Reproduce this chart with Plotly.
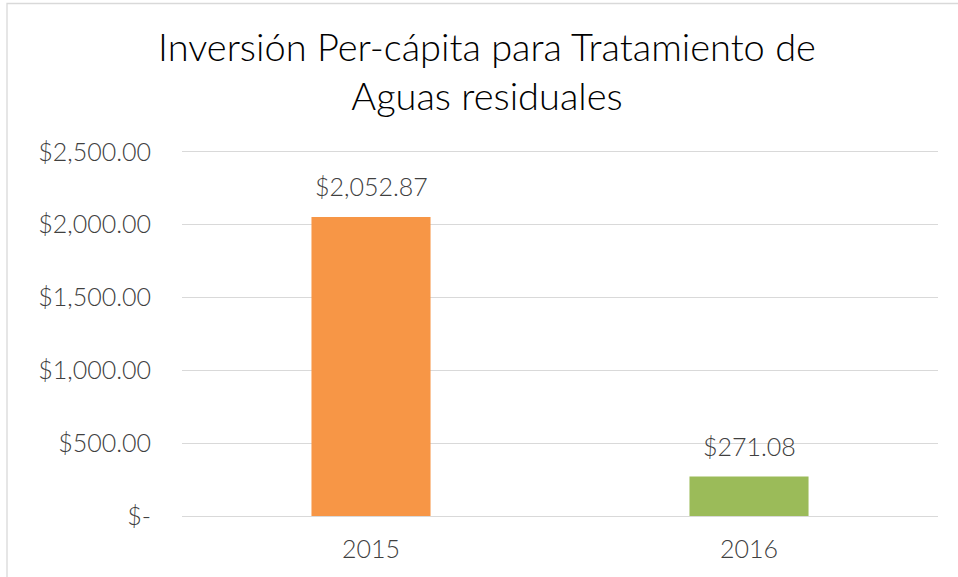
import plotly.graph_objects as go

years = ["2015", "2016"]
values = [2052.87, 271.08]
bar_colors = ["#F79646", "#9BBB59"]
label_text = ["$2,052.87", "$271.08"]
tick_vals = [0, 500, 1000, 1500, 2000, 2500]
tick_text = ["$-", "$500.00", "$1,000.00", "$1,500.00", "$2,000.00", "$2,500.00"]
y_max = 2520

W, H = 958, 577
L, R, T, B = 182, 20, 149, 61
pw, ph = W - L - R, H - T - B

FONT = "Lato"
TXT = "#404040"
fig = go.Figure(go.Bar(
    x=years, y=values, marker=dict(color=bar_colors, line=dict(width=0)),
    hoverinfo="skip",
))

# category axis: annotate by category index so numeric-looking labels are not misread
for i, (yv, t) in enumerate(zip(values, label_text)):
    fig.add_annotation(x=i, y=yv, text=t, showarrow=False, yanchor="bottom",
                       yshift=14, font=dict(family=FONT, size=25, color=TXT, weight=300))

fig.update_layout(
    width=W, height=H,
    margin=dict(l=L, r=R, t=T, b=B),
    paper_bgcolor="white", plot_bgcolor="white",
    bargap=0.685,
    showlegend=False,
    title=dict(text="Inversión Per-cápita para Tratamiento de<br>Aguas residuales",
               x=487 / W, xanchor="center", y=1 - 61 / H, yanchor="middle",
               font=dict(family=FONT, size=38, color="#000000", weight=300)),
    xaxis=dict(type="category", showgrid=False, showline=False, ticks="",
               ticklabelstandoff=16,
               tickfont=dict(family=FONT, size=25, color=TXT, weight=300)),
    yaxis=dict(range=[0, y_max], tickvals=tick_vals, ticktext=tick_text,
               showgrid=True, gridcolor="#D9D9D9", gridwidth=1.3,
               zeroline=True, zerolinecolor="#D9D9D9", zerolinewidth=1.3,
               showline=False, ticks="", ticklabelstandoff=30,
               tickfont=dict(family=FONT, size=25, color=TXT, weight=300)),
    shapes=[dict(type="rect", xref="paper", yref="paper",
                 x0=(7 - L) / pw, x1=(W + 20 - L) / pw,
                 y0=-(B + 20) / ph, y1=(H - 3.5 - B) / ph,
                 line=dict(color="#D9D9D9", width=1.3), layer="below")],
)

fig.write_html("out.html", config={"displayModeBar": False},
               post_script="document.body.style.margin='0';")
